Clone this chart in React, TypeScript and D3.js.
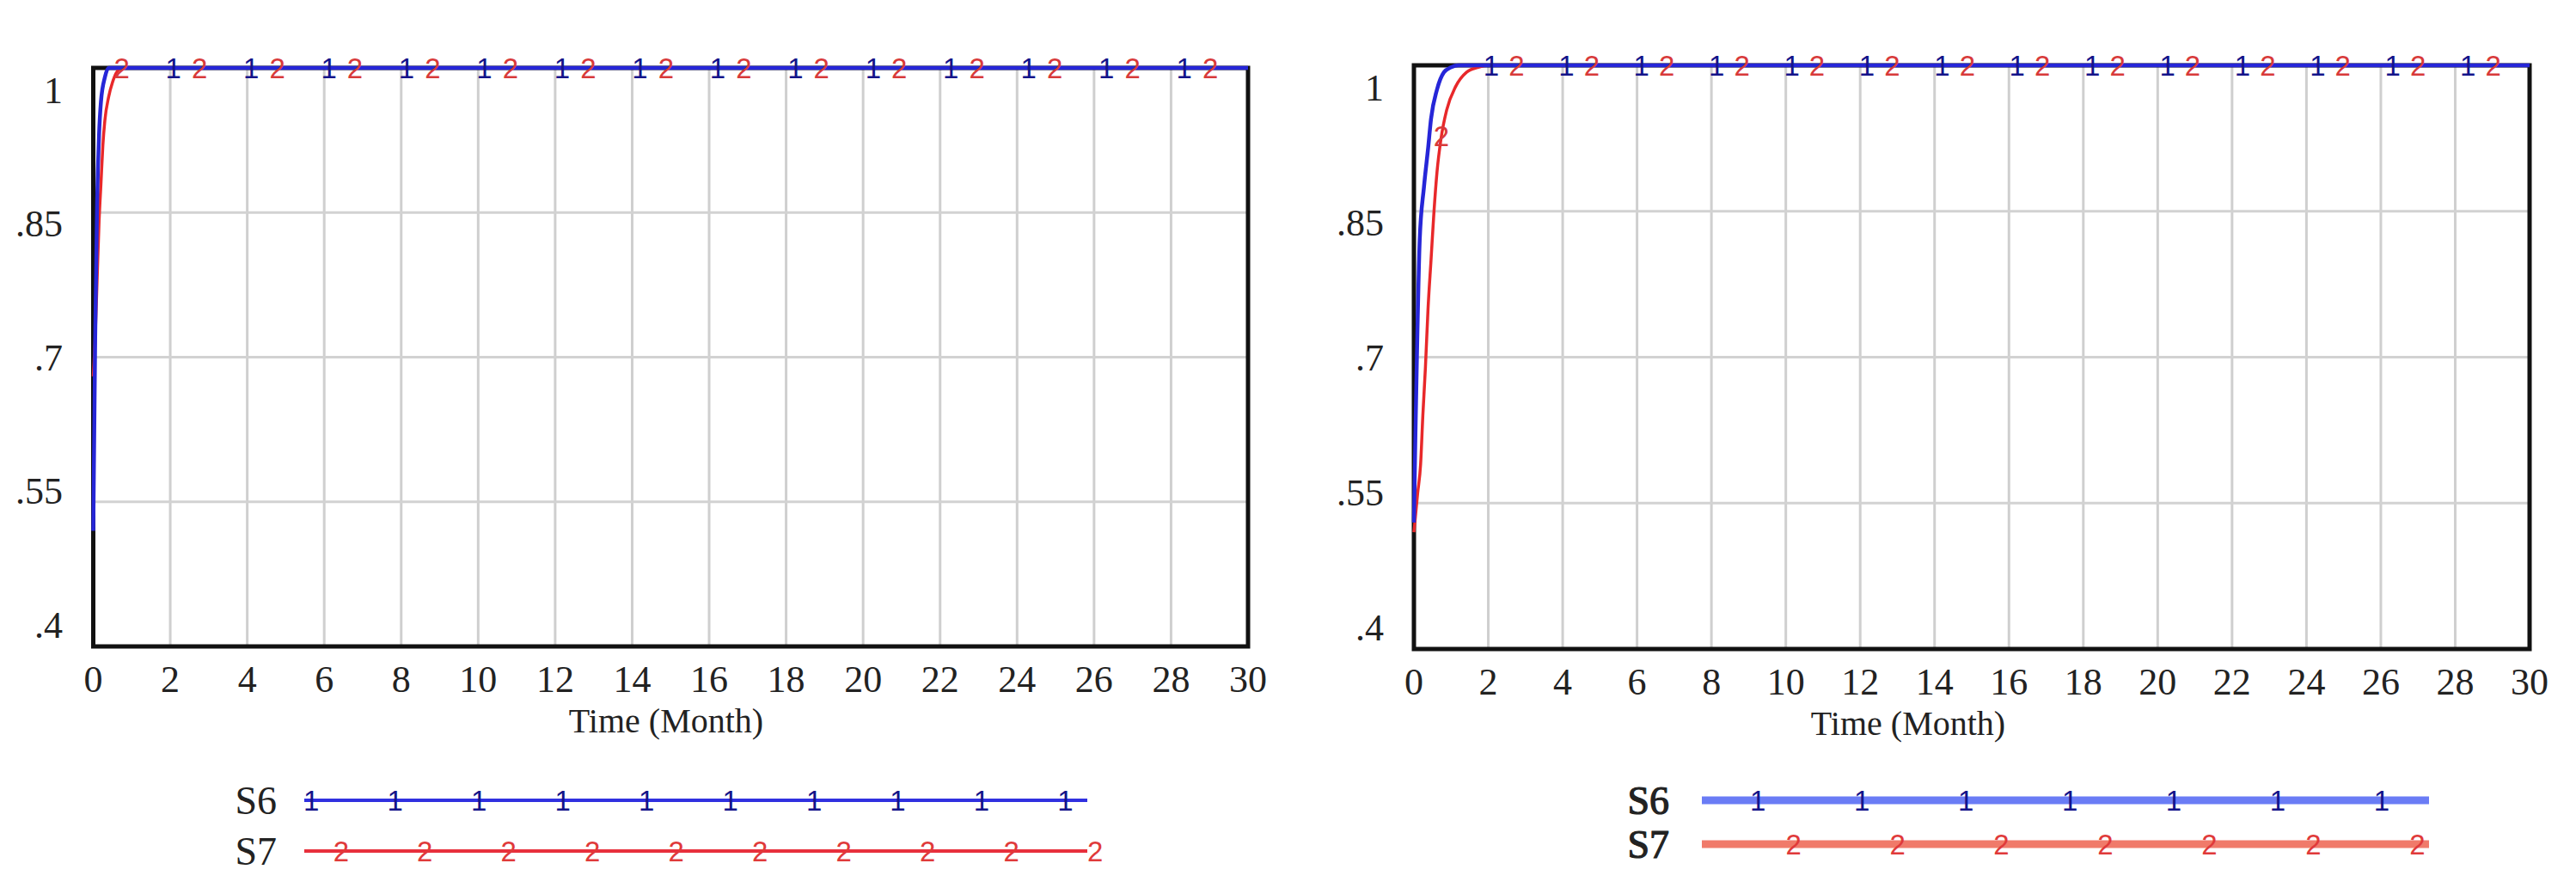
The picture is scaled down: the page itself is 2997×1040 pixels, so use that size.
import React from "react";
import * as d3 from "d3";

// ---------- data ----------
const xTicks = [0, 2, 4, 6, 8, 10, 12, 14, 16, 18, 20, 22, 24, 26, 28, 30];
const yTicks = [1, 0.85, 0.7, 0.55, 0.4];
const yTickLabels = ["1", ".85", ".7", ".55", ".4"];
const xTitle = "Time (Month)";
const seriesNames = ["S6", "S7"];
const seriesMarks = ["1", "2"];

// left chart
const leftS6Time = [0, 0.05, 0.1, 0.15, 0.2, 0.3, 0.4, 30];
const leftS6Value = [0.52, 0.72, 0.86, 0.93, 0.965, 0.99, 1, 1];
const leftS7Time = [0, 0.05, 0.1, 0.15, 0.2, 0.25, 0.3, 0.4, 0.5, 0.6, 0.75, 30];
const leftS7Value = [0.68, 0.72, 0.78, 0.84, 0.88, 0.92, 0.945, 0.97, 0.985, 0.995, 1, 1];

// right chart
const rightS6Time = [0, 0.04, 0.08, 0.155, 0.27, 0.385, 0.46, 0.62, 0.81, 1.0, 1.2, 30];
const rightS6Value = [0.53, 0.62, 0.7, 0.82, 0.875, 0.916, 0.945, 0.975, 0.993, 0.998, 1, 1];
const rightS7Time = [0, 0.1, 0.18, 0.24, 0.31, 0.38, 0.46, 0.54, 0.62, 0.73, 0.88, 1.12, 1.42, 1.73, 2.0, 30];
const rightS7Value = [0.52, 0.56, 0.59, 0.64, 0.69, 0.75, 0.8, 0.85, 0.89, 0.925, 0.954, 0.978, 0.993, 0.998, 1, 1];

// marker times along the plotted lines
const s6MarkerTimes = [2.08, 4.1, 6.12, 8.14, 10.16, 12.18, 14.2, 16.22, 18.24, 20.26, 22.28, 24.3, 26.32, 28.34];
const s7MarkerTimes = [0.74, 2.76, 4.78, 6.8, 8.82, 10.84, 12.86, 14.88, 16.9, 18.92, 20.94, 22.96, 24.98, 27.0, 29.02];

// ---------- styles ----------
const SERIF = "'Liberation Serif', 'Times New Roman', serif";
const SANS = "'Liberation Sans', Arial, sans-serif";
const W = 2997;
const H = 1040;

type Series = { time: number[]; value: number[] };

function valueAt(s: Series, t: number) {
  const i = d3.bisectRight(s.time, t);
  if (i <= 0) return s.value[0];
  if (i >= s.time.length) return s.value[s.value.length - 1];
  const t0 = s.time[i - 1], t1 = s.time[i];
  const f = (t - t0) / (t1 - t0);
  return s.value[i - 1] + f * (s.value[i] - s.value[i - 1]);
}

type PanelProps = {
  x0: number; x1: number; yTop: number; yBot: number;
  yLabelX: number; xLabelY: number; titleX: number; titleY: number;
  s6: Series; s7: Series;
  lg: {
    labelX: number; lineX0: number; lineX1: number; y6: number; y7: number;
    width: number; c6: string; c7: string; n: number; f1: number; f2: number; step: number; heavy: boolean;
  };
};

function Panel(p: PanelProps) {
  const x = d3.scaleLinear().domain([0, 30]).range([p.x0, p.x1]);
  const y = d3.scaleLinear().domain([0.4, 1]).range([p.yBot, p.yTop]);
  const yLab = d3.scaleLinear().domain([0.4, 1]).range([p.yBot - 25, p.yTop + 26]);
  const line = d3
    .line<[number, number]>()
    .x((d) => x(d[0]))
    .y((d) => y(d[1]))
    .curve(d3.curveMonotoneX);
  const pts = (s: Series) => s.time.map((t, i) => [t, s.value[i]] as [number, number]);
  const blue = "#2626d8";
  const red = "#e8282a";
  const lgx = d3.scaleLinear().domain([0, 1]).range([p.lg.lineX0, p.lg.lineX1]);
  const idx = d3.range(p.lg.n);
  const lgStroke = p.lg.heavy ? { stroke: "#222", strokeWidth: 1.2 } : {};
  return (
    <g>
      {/* grid */}
      {xTicks.slice(1, -1).map((t) => (
        <line key={"gx" + t} x1={x(t)} x2={x(t)} y1={p.yTop} y2={p.yBot} stroke="#cfcfcf" strokeWidth={3} />
      ))}
      {yTicks.slice(1, -1).map((v) => (
        <line key={"gy" + v} x1={p.x0} x2={p.x1} y1={y(v)} y2={y(v)} stroke="#d2d2d2" strokeWidth={3} />
      ))}
      {/* frame */}
      <rect x={p.x0} y={p.yTop} width={p.x1 - p.x0} height={p.yBot - p.yTop} fill="none" stroke="#111" strokeWidth={5} />
      {/* series */}
      <path d={line(pts(p.s7)) || ""} fill="none" stroke={red} strokeWidth={3.5} />
      <path d={line(pts(p.s6)) || ""} fill="none" stroke={blue} strokeWidth={4.5} />
      {/* markers */}
      {s7MarkerTimes.map((t) => (
        <text key={"m2" + t} x={x(t)} y={y(valueAt(p.s7, t))} fontFamily={SANS} fontSize={33} fill="#d83a3a"
          textAnchor="middle" dominantBaseline="central">{seriesMarks[1]}</text>
      ))}
      {s6MarkerTimes.map((t) => (
        <text key={"m1" + t} x={x(t)} y={y(valueAt(p.s6, t))} fontFamily={SANS} fontSize={33} fill="#14148a"
          textAnchor="middle" dominantBaseline="central">{seriesMarks[0]}</text>
      ))}
      {/* y labels */}
      {yTicks.map((v, i) => (
        <text key={"yl" + v} x={p.yLabelX} y={yLab(v)} fontFamily={SERIF} fontSize={44} fill="#222"
          textAnchor="end" dominantBaseline="central">{yTickLabels[i]}</text>
      ))}
      {/* x labels */}
      {xTicks.map((t) => (
        <text key={"xl" + t} x={x(t)} y={p.xLabelY} fontFamily={SERIF} fontSize={44} fill="#222"
          textAnchor="middle" dominantBaseline="central">{t}</text>
      ))}
      <text x={p.titleX} y={p.titleY} fontFamily={SERIF} fontSize={40} fill="#222" textAnchor="middle"
        dominantBaseline="central">{xTitle}</text>
      {/* legend */}
      <text x={p.lg.labelX} y={p.lg.y6} fontFamily={SERIF} fontSize={46} fill="#222"
        textAnchor="end" dominantBaseline="central" {...lgStroke}>{seriesNames[0]}</text>
      <text x={p.lg.labelX} y={p.lg.y7} fontFamily={SERIF} fontSize={46} fill="#222"
        textAnchor="end" dominantBaseline="central" {...lgStroke}>{seriesNames[1]}</text>
      <line x1={p.lg.lineX0} x2={p.lg.lineX1} y1={p.lg.y6} y2={p.lg.y6} stroke={p.lg.c6} strokeWidth={p.lg.width} />
      <line x1={p.lg.lineX0} x2={p.lg.lineX1} y1={p.lg.y7} y2={p.lg.y7} stroke={p.lg.c7} strokeWidth={p.lg.width} />
      {idx.map((i) => (
        <text key={"lm1" + i} x={lgx(p.lg.f1 + i * p.lg.step)} y={p.lg.y6} fontFamily={SANS} fontSize={33}
          fill="#14148a" textAnchor="middle" dominantBaseline="central">{seriesMarks[0]}</text>
      ))}
      {idx.map((i) => (
        <text key={"lm2" + i} x={lgx(p.lg.f2 + i * p.lg.step)} y={p.lg.y7} fontFamily={SANS} fontSize={33}
          fill="#e03a3a" textAnchor="middle" dominantBaseline="central">{seriesMarks[1]}</text>
      ))}
    </g>
  );
}

export default function App() {
  return (
    <svg width={W} height={H} style={{ position: "absolute", left: 0, top: 0, display: "block", background: "#fff" }}>
      <rect x={0} y={0} width={W} height={H} fill="#fff" />
      <Panel
        x0={108.5} x1={1452} yTop={79} yBot={752} yLabelX={73} xLabelY={790} titleX={775} titleY={838}
        s6={{ time: leftS6Time, value: leftS6Value }}
        s7={{ time: leftS7Time, value: leftS7Value }}
        lg={{ labelX: 322, lineX0: 354, lineX1: 1265, y6: 931, y7: 990, width: 4, c6: "#3030e0", c7: "#e8303c",
          n: 10, f1: 0.009, f2: 0.047, step: 0.107, heavy: false }}
      />
      <Panel
        x0={1645} x1={2943} yTop={76} yBot={755} yLabelX={1610} xLabelY={793} titleX={2220} titleY={841}
        s6={{ time: rightS6Time, value: rightS6Value }}
        s7={{ time: rightS7Time, value: rightS7Value }}
        lg={{ labelX: 1942, lineX0: 1980, lineX1: 2826, y6: 931, y7: 982, width: 9, c6: "#6a7cf5", c7: "#f07a6a",
          n: 7, f1: 0.077, f2: 0.126, step: 0.143, heavy: true }}
      />
    </svg>
  );
}
